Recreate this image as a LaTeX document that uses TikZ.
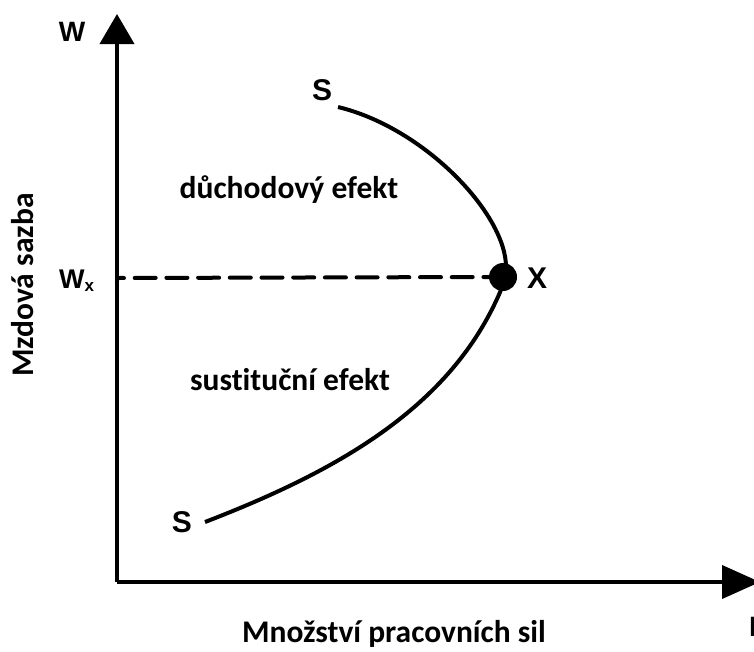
\documentclass[tikz,border=0pt]{standalone}
\usepackage{fontspec}
\setmainfont{Carlito}[Ligatures={NoCommon}]
\newfontfamily\arialf{Liberation Sans}
\usetikzlibrary{arrows.meta}
\tikzset{
  axisline/.style={line width=4pt},
  curveline/.style={line width=4pt},
  dashline/.style={line width=4pt, line cap=round, dash pattern=on 21pt off 10.7pt, dash phase=14pt},
  bigletter/.style={font=\arialf\bfseries\fontsize{30}{32}\selectfont, inner sep=0pt},
  caltext/.style={font=\bfseries\fontsize{31.5}{33}\selectfont, inner sep=0pt},
}
\begin{document}
\begin{tikzpicture}[x=1pt,y=-1pt]
\clip (0,0) rectangle (754,651);
\fill[white] (0,0) rectangle (754,651);
% axes
\coordinate (O) at (117,582);
\coordinate (ytip) at (117,14);
\coordinate (xtip) at (760,582);
\draw[axisline,-{Triangle[length=30pt,width=34pt]}] (O) -- (ytip);
\draw[axisline,-{Triangle[length=38pt,width=33pt]}] (O) -- (xtip);
% point X
\node[circle, fill=black, minimum size=28pt, inner sep=0pt] (dot) at (503,277) {};
\coordinate (wx) at (117,278);
\draw[dashline] (wx) -- (dot.west);
% curve
\coordinate (s1) at (338,107);
\coordinate (s2) at (205,522);
\coordinate (d1) at (506,268);
\coordinate (d2) at (503,285);
\draw[curveline] (s1) .. controls (425,128) and (507,215) .. (d1);
\draw[curveline] (d2) .. controls (455,405) and (340,470) .. (s2);
% labels
\node[bigletter] (lS1) at (322,90) {S};
\node[bigletter] (lS2) at (182,522) {S};
\node[bigletter] (lX) at (537,278) {X};
\node[font=\arialf\bfseries\fontsize{28}{30}\selectfont, inner sep=0pt] (lW) at (72,32) {W};
\node[inner sep=0pt, anchor=west] (lWx) at (59,281) {\arialf\bfseries\fontsize{27}{29}\selectfont W\raisebox{-3pt}{\fontsize{17}{18}\selectfont x}};
\node[font=\arialf\bfseries\fontsize{28}{30}\selectfont, inner sep=0pt, anchor=west] (lL) at (749,627) {L};
\node[caltext] (t1) at (289,190) {důchodový efekt};
\node[caltext] (t2) at (290,380) {sustituční efekt};
\node[caltext] (t3) at (394,634) {Množství pracovních sil};
\node[caltext, rotate=90] (t4) at (23,285) {Mzdová sazba};
\end{tikzpicture}
\end{document}
